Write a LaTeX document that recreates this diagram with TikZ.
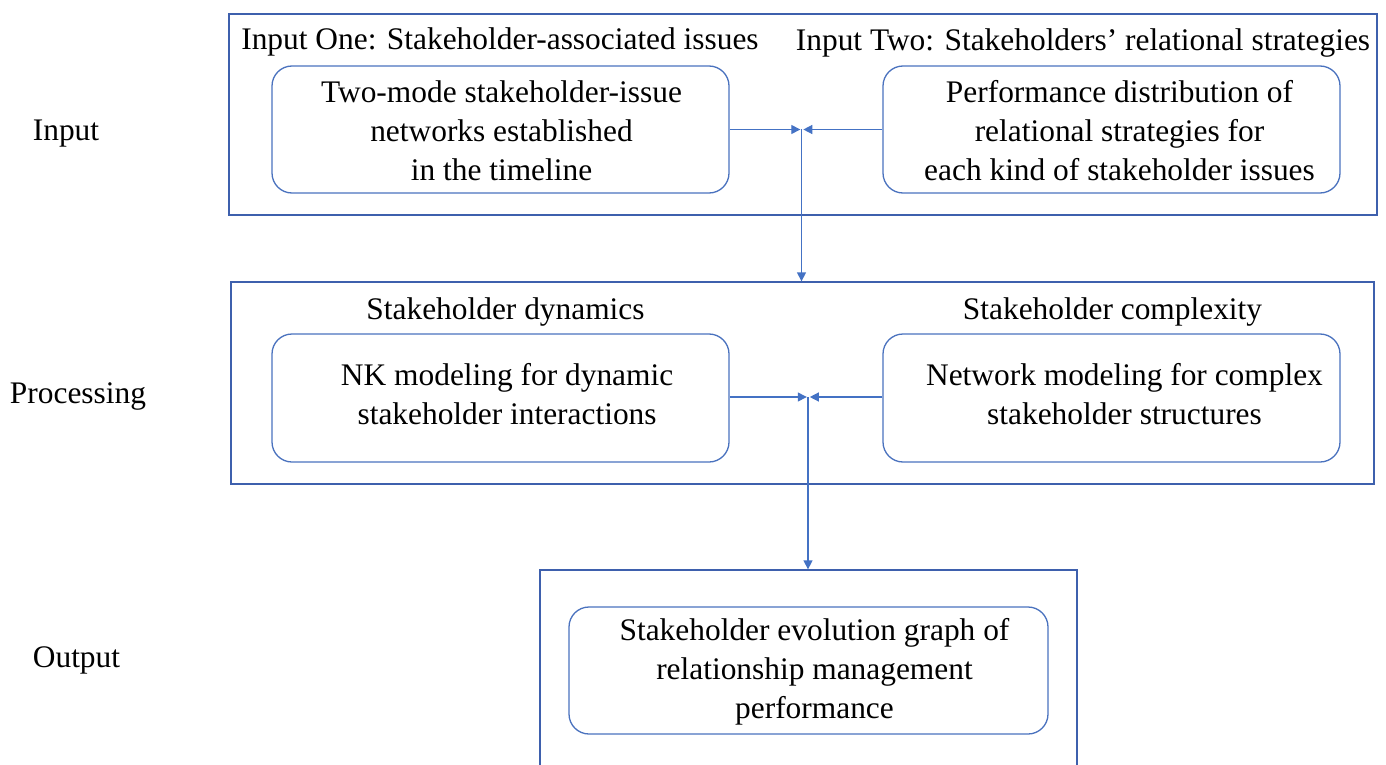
\documentclass[tikz,border=0pt]{standalone}
\usepackage{fontspec}
\setmainfont{Liberation Serif}[Ligatures=TeX]
\newfontfamily\labelfont{Liberation Serif}
\usetikzlibrary{arrows.meta}
\definecolor{frameblue}{HTML}{3E60AD}
\definecolor{boxblue}{HTML}{4A72BE}
\definecolor{linkblue}{HTML}{4472C4}
\tikzset{
  stage/.style={draw=frameblue, line width=0.65pt, inner sep=0pt},
  roundbox/.style={draw=boxblue, line width=0.65pt, rounded corners=10pt,
    minimum width=228.5pt, minimum height=63.5pt, inner sep=0pt},
  boxtext/.style={align=center, font=\labelfont\fontsize{15.7}{19.5}\selectfont, inner sep=0pt},
  heading/.style={font=\labelfont\fontsize{15.7}{19.5}\selectfont, inner sep=0pt},
  link/.style={draw=linkblue, line width=0.65pt,
    -{Triangle[length=4.5pt,width=4.5pt]}},
}
\begin{document}
\begin{tikzpicture}
\useasboundingbox (0,0) rectangle (693pt,-382.5pt);

% stage frames
\node[stage, minimum width=574pt, minimum height=100.5pt] (inframe) at (401.5pt,-57.25pt) {};
\node[stage, minimum width=571.5pt, minimum height=101pt] (procframe) at (401.25pt,-191.5pt) {};
\node[stage, minimum width=268.5pt, minimum height=105pt] (outframe) at (404.25pt,-337.5pt) {};

% stage names
\node[heading] (lin) at (33pt,-66.75pt) {Input};
\node[heading] (lproc) at (39pt,-198.25pt) {Processing};
\node[heading] (lout) at (38.25pt,-330.25pt) {Output};

% headings inside the frames
\node[heading] (h1) at (250pt,-20.75pt) {Input One: Stakeholder-associated issues};
\node[heading] (h2) at (541.5pt,-21.5pt) {Input Two: Stakeholders’ relational strategies};
\node[heading] (h3) at (252.75pt,-155.75pt) {Stakeholder dynamics};
\node[heading] (h4) at (556.25pt,-155.75pt) {Stakeholder complexity};

% rounded boxes
\node[roundbox] (in1) at (250.25pt,-64.75pt) {};
\node[roundbox] (in2) at (555.75pt,-64.75pt) {};
\node[roundbox, minimum height=64pt] (pr1) at (250.25pt,-199pt) {};
\node[roundbox, minimum height=64pt] (pr2) at (555.75pt,-199pt) {};
\node[roundbox, minimum width=239.5pt] (out) at (404.25pt,-335.25pt) {};

% box texts
\node[boxtext] (t1) at ([xshift=0.5pt,yshift=-0.5pt]in1.center) {Two-mode stakeholder-issue\\networks established\\in the timeline};
\node[boxtext] (t2) at ([xshift=4pt,yshift=-0.5pt]in2.center) {Performance distribution of\\relational strategies for\\each kind of stakeholder issues};
\node[boxtext] (t3) at ([xshift=3.3pt,yshift=2.2pt]pr1.center) {NK modeling for dynamic\\stakeholder interactions};
\node[boxtext] (t4) at ([xshift=6.5pt,yshift=2.2pt]pr2.center) {Network modeling for complex\\stakeholder structures};
\node[boxtext] (t5) at ([xshift=3pt,yshift=-0.5pt]out.center) {Stakeholder evolution graph of\\relationship management\\performance};

% junctions
\coordinate (j1) at (400.75pt,-64.75pt);
\coordinate (j2) at (404pt,-198.5pt);

% connectors
\draw[link] (in1.east) -- ([xshift=-0.6pt]j1);
\draw[link] (in2.west) -- ([xshift=0.9pt]j1);
\draw[link] (j1) -- (j1 |- procframe.north);
\draw[link] (pr1.east |- j2) -- ([xshift=-0.6pt]j2);
\draw[link] (pr2.west |- j2) -- ([xshift=0.9pt]j2);
\draw[link] (j2) -- (j2 |- outframe.north);
\end{tikzpicture}
\end{document}
